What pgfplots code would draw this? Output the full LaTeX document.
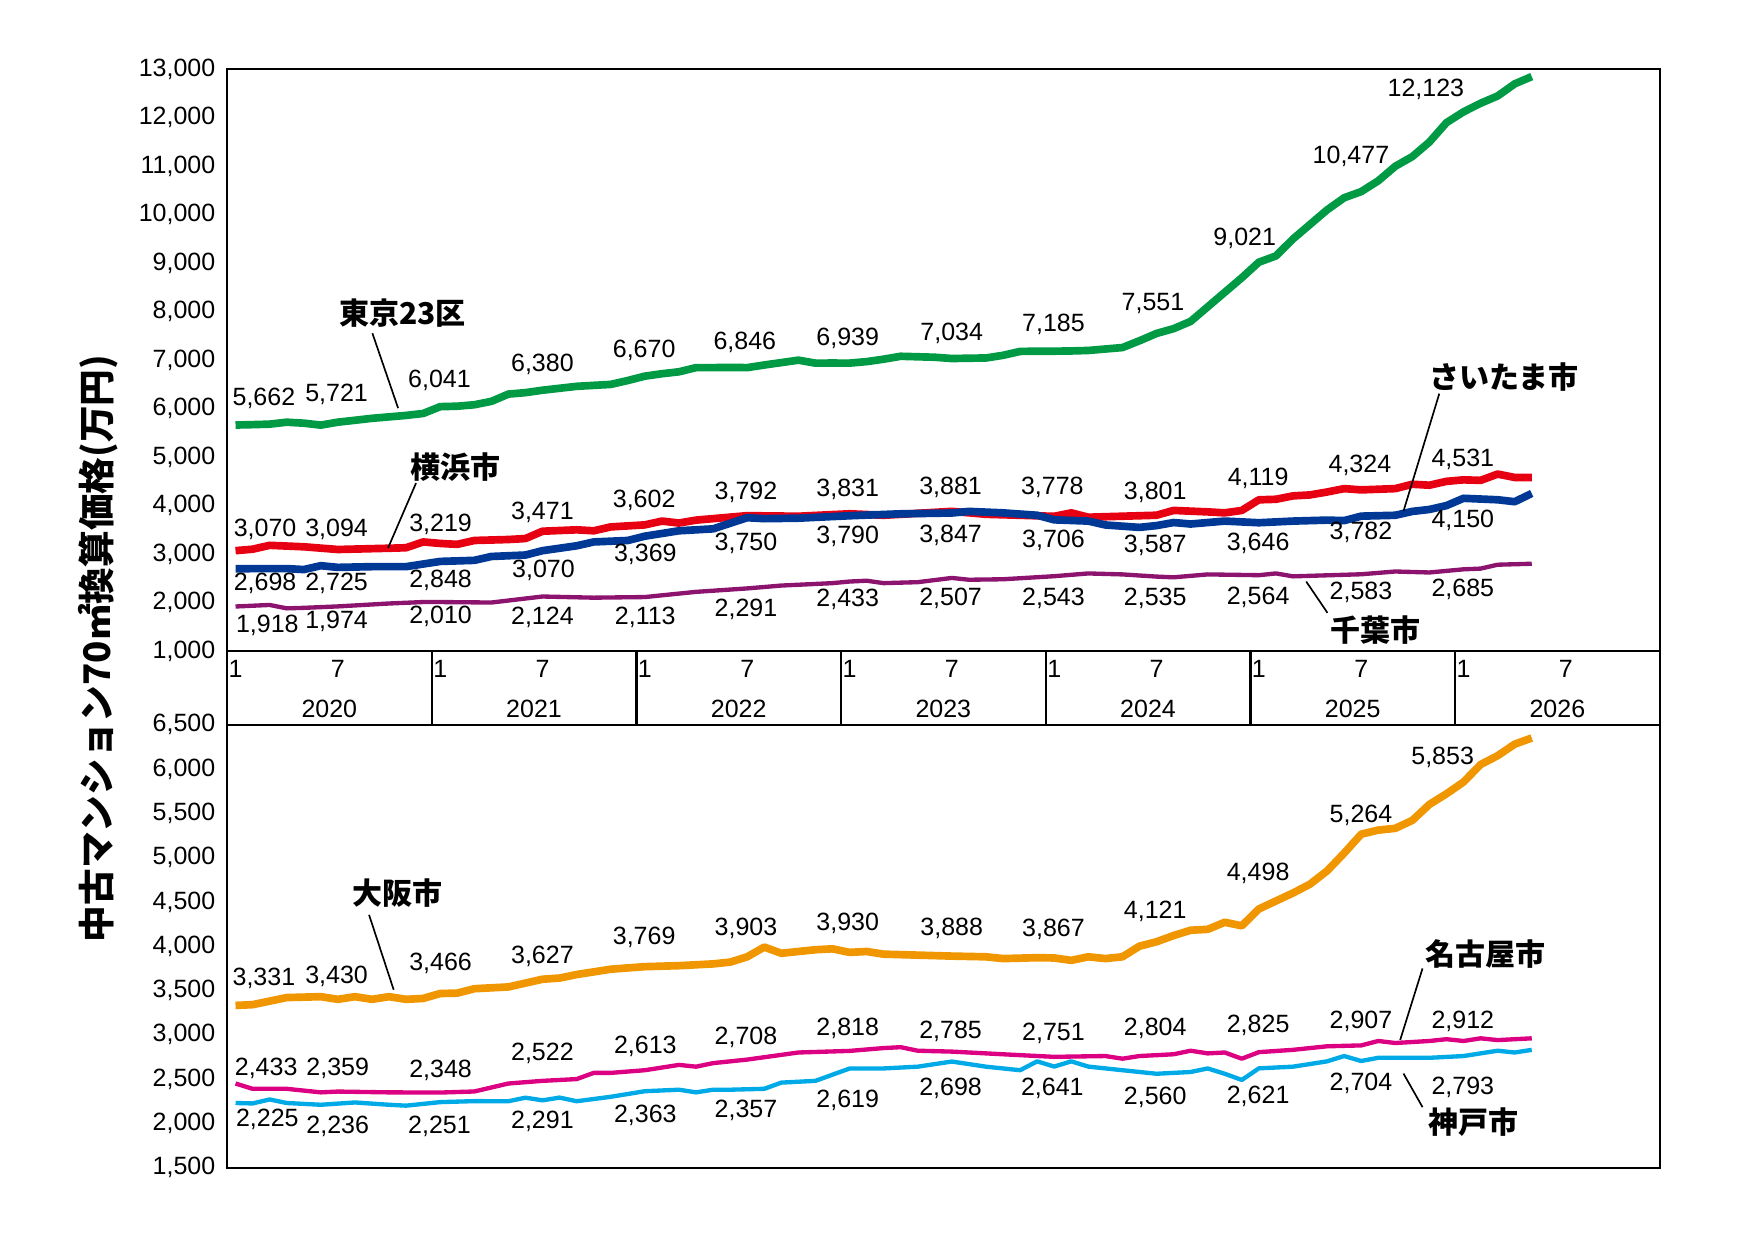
\documentclass[border=0pt]{standalone}
\usepackage{fontspec}
\setmainfont{Liberation Sans}
\newfontfamily\jp{Noto Sans CJK JP}
\usepackage{pgfplots}
\pgfplotsset{compat=1.18}
\usepackage{pgfplotstable}
\definecolor{cT}{RGB}{0,153,68}
\definecolor{cY}{RGB}{230,0,18}
\definecolor{cS}{RGB}{0,56,150}
\definecolor{cC}{RGB}{140,20,110}
\definecolor{cO}{RGB}{240,150,0}
\definecolor{cN}{RGB}{220,0,130}
\definecolor{cK}{RGB}{0,170,230}
\pgfplotstableread{
x y
0 5662
1 5670
2 5680
3 5720
4 5700
5 5660
6 5721
7 5760
8 5800
9 5830
10 5860
11 5900
12 6041
13 6050
14 6080
15 6150
16 6300
17 6330
18 6380
19 6420
20 6460
21 6480
22 6500
23 6580
24 6670
25 6720
26 6760
27 6846
28 6846
29 6850
30 6846
31 6900
32 6950
33 7000
34 6939
35 6940
36 6939
37 6970
38 7020
39 7080
40 7070
41 7060
42 7034
43 7040
44 7045
45 7100
46 7180
47 7185
48 7185
49 7190
50 7200
51 7230
52 7260
53 7400
54 7551
55 7650
56 7800
57 8100
58 8400
59 8700
60 9021
61 9150
62 9500
63 9800
64 10100
65 10350
66 10477
67 10700
68 11000
69 11200
70 11500
71 11900
72 12123
73 12300
74 12450
75 12700
76 12850
}\tT
\pgfplotstableread{
x y
0 3070
1 3100
2 3180
4 3150
6 3094
9 3120
10 3130
11 3250
12 3219
13 3200
14 3280
16 3300
17 3320
18 3471
20 3500
21 3480
22 3560
24 3602
25 3680
26 3640
27 3700
30 3792
33 3780
36 3831
38 3800
40 3840
42 3881
44 3820
46 3800
48 3778
49 3850
50 3760
54 3801
55 3900
57 3870
58 3850
59 3900
60 4119
61 4130
62 4200
63 4220
64 4280
65 4350
66 4324
68 4350
69 4440
70 4420
71 4500
72 4531
73 4520
74 4650
75 4580
76 4580
}\tY
\pgfplotstableread{
x y
0 2698
3 2700
4 2680
5 2760
6 2725
8 2740
10 2740
12 2848
14 2870
15 2950
17 2980
18 3070
20 3170
21 3250
23 3280
24 3369
26 3480
28 3520
30 3750
31 3730
33 3740
36 3790
39 3830
42 3847
43 3880
45 3850
47 3800
48 3706
50 3680
51 3600
53 3550
54 3587
55 3650
56 3620
58 3680
60 3646
62 3680
64 3700
65 3690
66 3782
68 3800
69 3880
70 3920
71 4000
72 4150
74 4120
75 4080
76 4250
}\tS
\pgfplotstableread{
x y
0 1918
2 1950
3 1880
4 1890
6 1920
9 1980
11 2010
12 2010
15 2000
18 2124
21 2100
24 2113
27 2220
30 2291
32 2350
35 2400
36 2433
37 2450
38 2400
40 2420
42 2507
43 2470
45 2480
48 2543
50 2600
52 2580
54 2535
55 2520
57 2580
60 2564
61 2600
62 2540
66 2583
68 2640
70 2620
72 2685
73 2700
74 2780
76 2800
}\tC
\pgfplotstableread{
x y
0 3331
1 3340
3 3420
5 3430
6 3400
7 3430
8 3400
9 3430
10 3400
11 3410
12 3466
13 3470
14 3520
16 3540
18 3627
19 3640
20 3680
22 3740
24 3769
26 3780
28 3800
29 3820
30 3880
31 3990
32 3920
34 3960
35 3970
36 3930
37 3940
38 3910
42 3888
44 3880
45 3860
47 3870
48 3867
49 3840
50 3880
51 3860
52 3880
53 4000
54 4050
55 4120
56 4180
57 4190
58 4270
59 4230
60 4420
62 4600
63 4700
64 4850
65 5050
66 5264
67 5310
68 5330
69 5420
70 5600
71 5720
72 5853
73 6050
74 6150
75 6280
76 6350
}\tO
\pgfplotstableread{
x y
0 2450
1 2390
3 2390
5 2350
6 2359
9 2350
12 2348
14 2360
16 2450
18 2480
20 2500
21 2570
22 2570
24 2600
26 2660
27 2640
28 2680
30 2720
33 2800
36 2818
38 2850
39 2860
40 2820
42 2810
44 2790
46 2770
48 2751
51 2760
52 2730
53 2760
54 2770
55 2780
56 2820
57 2790
58 2800
59 2730
60 2804
62 2830
64 2870
66 2880
67 2930
68 2907
70 2930
71 2950
72 2930
73 2960
74 2940
76 2960
}\tN
\pgfplotstableread{
x y
0 2230
1 2225
2 2270
3 2230
5 2210
7 2236
9 2210
10 2200
12 2240
14 2251
16 2250
17 2290
18 2260
19 2291
20 2250
22 2300
24 2363
26 2380
27 2350
28 2380
29 2380
31 2390
32 2460
34 2480
36 2619
38 2620
40 2640
42 2698
44 2640
46 2600
47 2700
48 2641
49 2700
50 2641
52 2600
54 2560
56 2580
57 2620
58 2560
59 2490
60 2621
62 2640
64 2700
65 2760
66 2704
67 2740
70 2740
72 2760
74 2820
75 2800
76 2830
}\tK
\newcommand\p[2]{({#1*0.3355pt},{(1109.7-#2)*0.3355pt})}
\newcommand\lab[3]{\node[font=\fontsize{7.5}{9}\selectfont,inner sep=0pt] at \p{#1}{#2} {#3};}
\newcommand\nm[3]{\node[font=\jp\bfseries\fontsize{9}{11}\selectfont,inner sep=0pt] at \p{#1}{#2} {#3};}
\begin{document}
\begin{tikzpicture}
\path (0,0) rectangle (526.2pt,372.3pt);
\pgfplotsset{every axis/.style={scale only axis, width=429.8pt, xmin=0, xmax=84, xtick=\empty,
  axis line style={line width=0.7pt}, major tick length=0pt, clip=false,
  tick label style={font=\fontsize{7.5}{9}\selectfont},
  /pgf/number format/assume math mode=true,
  /pgf/number format/1000 sep={,},
  scaled y ticks=false, yticklabel style={/pgf/number format/fixed}},
  thk/.style={line width=2.3pt, line join=round},
  thn/.style={line width=1.3pt, line join=round}}
\begin{axis}[at={(68.1pt,177.0pt)}, anchor=south west, height=174.5pt,
  ymin=1000, ymax=13000, ytick={1000,2000,...,13000}]
\addplot[thn,cC] table[x expr=\thisrow{x}+0.5,y=y]{\tC};
\addplot[thk,cY] table[x expr=\thisrow{x}+0.5,y=y]{\tY};
\addplot[thk,cS] table[x expr=\thisrow{x}+0.5,y=y]{\tS};
\addplot[thk,cT] table[x expr=\thisrow{x}+0.5,y=y]{\tT};
\end{axis}
\begin{axis}[at={(68.1pt,22.0pt)}, anchor=south west, height=132.9pt,
  ymin=1500, ymax=6500, ytick={1500,2000,...,6500}]
\addplot[thn,cK] table[x expr=\thisrow{x}+0.5,y=y]{\tK};
\addplot[thn,cN] table[x expr=\thisrow{x}+0.5,y=y]{\tN};
\addplot[thk,cO] table[x expr=\thisrow{x}+0.5,y=y]{\tO};
\end{axis}
% month/year band
\draw[line width=0.7pt] (68.1pt,154.9pt) rectangle (497.9pt,177.0pt);
\foreach \i/\yr in {0/2020,1/2021,2/2022,3/2023,4/2024,5/2025,6/2026}{
  \pgfmathsetmacro\xa{68.1+\i*61.4}
  \ifnum\i>0 \draw[line width=0.7pt] (\xa pt,154.9pt) -- (\xa pt,177.0pt);\fi
  \node[font=\fontsize{7.5}{9}\selectfont,inner sep=0pt] at ({(\xa+2.56)*1pt},171.7pt) {1};
  \node[font=\fontsize{7.5}{9}\selectfont,inner sep=0pt] at ({(\xa+33.26)*1pt},171.7pt) {7};
  \node[font=\fontsize{7.5}{9}\selectfont,inner sep=0pt] at ({(\xa+30.7)*1pt},159.6pt) {\yr};
}
% y label
\node[rotate=90,font=\jp\bfseries\fontsize{11}{13}\selectfont,inner sep=0pt] at \p{88}{580} {中古マンション70㎡換算価格(万円)};
% Tokyo
\lab{236}{356}{5,662}\lab{301}{353}{5,721}\lab{393}{340}{6,041}\lab{485}{326}{6,380}\lab{576}{313}{6,670}\lab{666}{306}{6,846}\lab{758}{303}{6,939}\lab{851}{298}{7,034}\lab{942}{290}{7,185}\lab{1031}{271}{7,551}\lab{1113}{213}{9,021}\lab{1208}{140}{10,477}\lab{1275}{80}{12,123}
% Yokohama
\lab{237}{473}{3,070}\lab{301}{473}{3,094}\lab{394}{469}{3,219}\lab{485}{458}{3,471}\lab{576}{447}{3,602}\lab{667}{440}{3,792}\lab{758}{438}{3,831}\lab{850}{436}{3,881}\lab{941}{436}{3,778}\lab{1033}{440}{3,801}\lab{1125}{428}{4,119}\lab{1216}{416}{4,324}\lab{1308}{411}{4,531}
% Saitama
\lab{237}{522}{2,698}\lab{301}{522}{2,725}\lab{394}{519}{2,848}\lab{486}{510}{3,070}\lab{577}{496}{3,369}\lab{667}{486}{3,750}\lab{758}{480}{3,790}\lab{850}{479}{3,847}\lab{942}{483}{3,706}\lab{1033}{488}{3,587}\lab{1125}{486}{3,646}\lab{1217}{476}{3,782}\lab{1308}{465}{4,150}
% Chiba
\lab{239}{559}{1,918}\lab{301}{556}{1,974}\lab{394}{551}{2,010}\lab{485}{552}{2,124}\lab{577}{552}{2,113}\lab{667}{545}{2,291}\lab{758}{536}{2,433}\lab{850}{535}{2,507}\lab{942}{535}{2,543}\lab{1033}{535}{2,535}\lab{1125}{534}{2,564}\lab{1217}{530}{2,583}\lab{1308}{527}{2,685}
% Osaka
\lab{236}{875}{3,331}\lab{301}{873}{3,430}\lab{394}{861}{3,466}\lab{485}{855}{3,627}\lab{576}{838}{3,769}\lab{667}{830}{3,903}\lab{758}{826}{3,930}\lab{851}{830}{3,888}\lab{942}{831}{3,867}\lab{1033}{815}{4,121}\lab{1125}{781}{4,498}\lab{1217}{729}{5,264}\lab{1290}{677}{5,853}
% Nagoya
\lab{238}{955}{2,433}\lab{302}{955}{2,359}\lab{394}{957}{2,348}\lab{485}{942}{2,522}\lab{577}{936}{2,613}\lab{667}{928}{2,708}\lab{758}{920}{2,818}\lab{850}{922}{2,785}\lab{942}{924}{2,751}\lab{1033}{920}{2,804}\lab{1125}{917}{2,825}\lab{1217}{913}{2,907}\lab{1308}{913}{2,912}
% Kobe
\lab{239}{1001}{2,225}\lab{302}{1007}{2,236}\lab{393}{1007}{2,251}\lab{485}{1003}{2,291}\lab{577}{997}{2,363}\lab{667}{993}{2,357}\lab{758}{984}{2,619}\lab{850}{973}{2,698}\lab{941}{973}{2,641}\lab{1033}{981}{2,560}\lab{1125}{980}{2,621}\lab{1217}{969}{2,704}\lab{1308}{972}{2,793}
% names
\nm{360}{280}{東京23区}\draw[line width=0.5pt] \p{333}{298} -- \p{356}{365};
\nm{407}{418}{横浜市}\draw[line width=0.5pt] \p{372}{432} -- \p{347}{490};
\nm{1345}{337}{さいたま市}\draw[line width=0.5pt] \p{1287}{352} -- \p{1255}{457};
\nm{1230}{563}{千葉市}\draw[line width=0.5pt] \p{1187}{548} -- \p{1168}{520};
\nm{355}{799}{大阪市}\draw[line width=0.5pt] \p{330}{818} -- \p{352}{885};
\nm{1328}{853}{名古屋市}\draw[line width=0.5pt] \p{1272}{866} -- \p{1252}{930};
\nm{1318}{1003}{神戸市}\draw[line width=0.5pt] \p{1272}{990} -- \p{1255}{960};
\end{tikzpicture}
\end{document}
